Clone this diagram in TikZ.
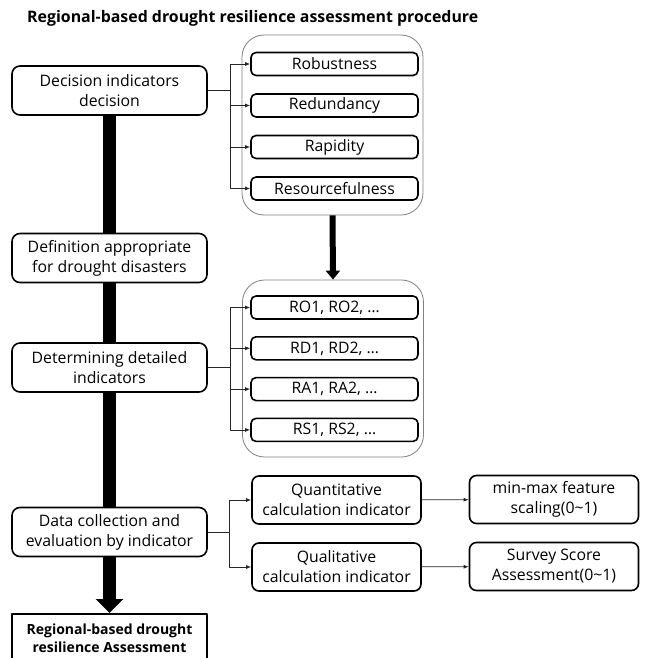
\documentclass[tikz,border=0pt]{standalone}
\usepackage{fontspec}
\setmainfont{Open Sans}
\usetikzlibrary{arrows.meta}
\begin{document}
\begin{tikzpicture}[x=1pt,y=-1pt,line join=round,font=\fontsize{15.8}{20}\selectfont,
		stage/.style={draw,line width=1.6pt,rounded corners=8pt,fill=white,minimum width=195pt,minimum height=49pt,align=center,inner sep=0pt},
		item/.style={draw,line width=1.6pt,rounded corners=5pt,fill=white,minimum width=167pt,minimum height=23pt,inner sep=0pt},
		calcbox/.style={draw,line width=1.6pt,rounded corners=7pt,minimum width=169pt,minimum height=48pt,align=center,inner sep=0pt},
		group/.style={draw=gray,line width=0.8pt,rounded corners=22pt,minimum width=181pt,inner sep=0pt},
		link/.style={draw=black!85,line width=0.8pt,-{Latex[length=5pt,width=4pt]}},
		bar/.style={line width=13pt,line cap=butt}]
	\useasboundingbox (0,0) rectangle (645,658);
	\node[anchor=west,inner sep=0pt,font=\fontsize{15.9}{18}\selectfont\bfseries] (title) at (27,18) {Regional-based drought resilience assessment procedure};
	% left column
	\node[stage] (b1) at (109.5,90.5) {Decision indicators\\decision};
	\node[stage] (b2) at (109.5,258) {Definition appropriate\\for drought disasters};
	\node[stage] (b3) at (109.5,367.5) {Determining detailed\\indicators};
	\node[stage] (b4) at (109.5,532) {Data collection and\\evaluation by indicator};
	\node[draw,line width=1.6pt,anchor=north,minimum width=195pt,minimum height=49pt,align=center,inner sep=0pt,font=\fontsize{14}{18}\selectfont\bfseries] (fin) at (109.5,613) {Regional-based drought\\resilience Assessment};
	\draw[bar] (b1.south) -- (b2.north);
	\draw[bar] (b2.south) -- (b3.north);
	\draw[bar] (b3.south) -- (b4.north);
	\draw[bar,-{Triangle[width=27pt,length=14pt]}] (b4.south) -- (fin.north);
	% the four R's
	\node[group,minimum height=180pt] (grpA) at (332.5,125) {};
	\foreach \t [count=\i] in {Robustness,Redundancy,Rapidity,Resourcefulness}{
		\node[item] (r\i) at (334.5,{64+41.5*(\i-1)}) {\t};
		\draw[link] (b1.east) -- ++(23,0) |- (r\i.west);}
	% detailed indicators
	\node[group,minimum height=177pt] (grpB) at (333,368.5) {};
	\foreach \t [count=\i] in {{RO1, RO2, …},{RD1, RD2, …},{RA1, RA2, …},{RS1, RS2, …}}{
		\node[item] (d\i) at (334.5,{307.5+40.8*(\i-1)}) {\t};
		\draw[link] (b3.east) -- ++(23,0) |- (d\i.west);}
	\draw[line width=6pt,line cap=butt,-{Triangle[width=14pt,length=9pt]}] (grpA.south) -- (grpB.north);
	% calculation
	\node[calcbox] (qn) at (336.5,500) {Quantitative\\calculation indicator};
	\node[calcbox] (ql) at (336.5,567) {Qualitative\\calculation indicator};
	\node[calcbox] (mm) at (554,499.5) {min-max feature\\scaling(0\textasciitilde 1)};
	\node[calcbox] (sv) at (554,566.5) {Survey Score\\Assessment(0\textasciitilde 1)};
	\draw[link] (b4.east) -- ++(22,0) |- (qn.west);
	\draw[link] (b4.east) -- ++(22,0) |- (ql.west);
	\draw[link] (qn) -- (mm);
	\draw[link] (ql) -- (sv);
\end{tikzpicture}
\end{document}
